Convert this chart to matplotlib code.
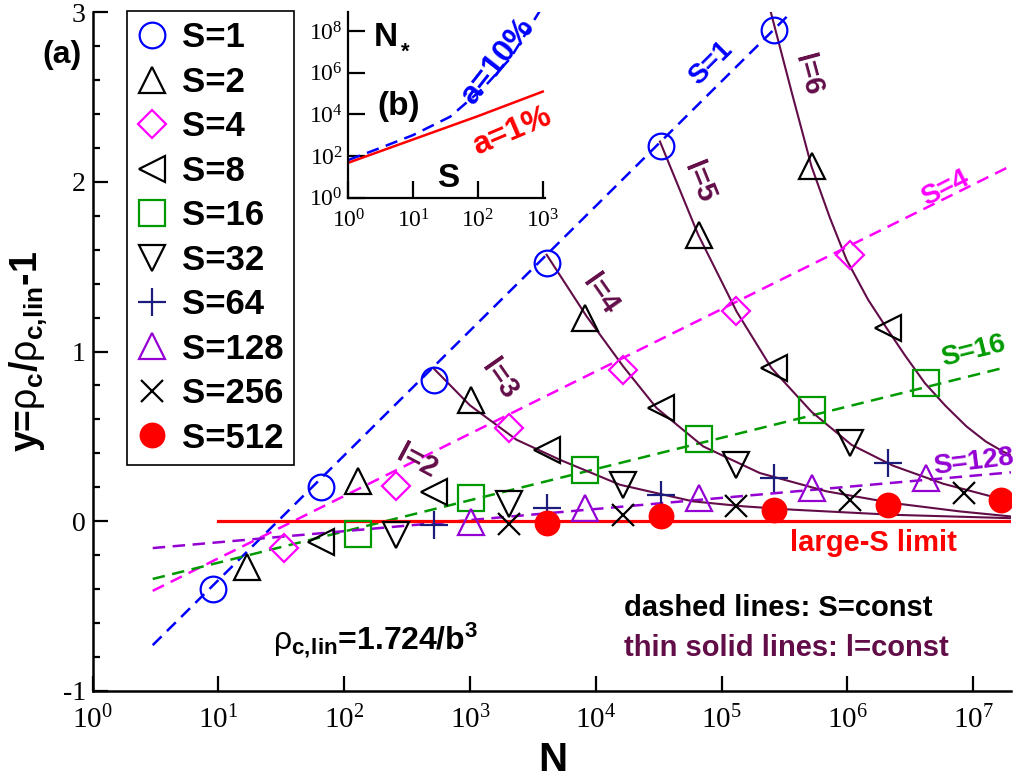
import numpy as np
import matplotlib
matplotlib.use("Agg")
import matplotlib.pyplot as plt
from matplotlib.ticker import MultipleLocator, NullLocator, FixedLocator

plt.rcParams['font.family'] = 'Liberation Sans'
plt.rcParams['axes.unicode_minus'] = False
plt.rcParams['mathtext.fontset'] = 'stix'
plt.rcParams['mathtext.rm'] = 'Liberation Sans'
plt.rcParams['mathtext.it'] = 'Liberation Sans:bold'
plt.rcParams['mathtext.bf'] = 'Liberation Sans:bold'

# ---- simulation points, y = rho_c/rho_c,lin - 1 ----
N_s1 = [9, 65, 513, 4097, 32769, 262145]
y_s1 = [-0.40, 0.20, 0.83, 1.52, 2.21, 2.895]
N_s2 = [17, 129, 1025, 8193, 65537, 524289]
y_s2 = [-0.27, 0.235, 0.715, 1.197, 1.688, 2.09]
N_s4 = [33, 257, 2049, 16385, 131073, 1048577]
y_s4 = [-0.16, 0.205, 0.55, 0.89, 1.236, 1.57]
N_s8 = [65, 513, 4097, 32769, 262145, 2097153]
y_s8 = [-0.12, 0.17, 0.42, 0.667, 0.90, 1.138]
N_s16 = [129, 1025, 8193, 65537, 524289, 4194305]
y_s16 = [-0.074, 0.137, 0.30, 0.484, 0.657, 0.814]
N_s32 = [257, 2049, 16385, 131073, 1048577]
y_s32 = [-0.08, 0.10, 0.215, 0.333, 0.46]
N_s64 = [513, 4097, 32769, 262145, 2097153]
y_s64 = [-0.025, 0.078, 0.156, 0.254, 0.343]
N_s128 = [1025, 8193, 65537, 524289, 4194305]
y_s128 = [-0.005, 0.081, 0.137, 0.196, 0.254]
N_s256 = [2049, 16385, 131073, 1048577, 8388609]
y_s256 = [-0.015, 0.038, 0.087, 0.127, 0.166]
N_s512 = [4097, 32769, 262145, 2097153, 16777217]
y_s512 = [-0.011, 0.028, 0.068, 0.097, 0.127]

# ---- dashed S=const lines (end points) ----
dash_s1_N, dash_s1_y = [3, 3.6e5], [-0.73, 3.0]
dash_s4_N, dash_s4_y = [3, 1.95e7], [-0.41, 2.09]
dash_s16_N, dash_s16_y = [3, 1.84e7], [-0.34, 0.908]
dash_s128_N, dash_s128_y = [3, 2.0e7], [-0.158, 0.288]
limit_N, limit_y = [10, 2.0e7], [0.0, 0.0]

# ---- thin solid l=const curves (log10 N, y) ----
l3_logN = [2.707, 2.999, 3.370, 3.715, 4.192, 4.774, 5.172, 5.569, 6.364, 7.305]
l3_y = [0.903, 0.683, 0.480, 0.362, 0.215, 0.117, 0.088, 0.068, 0.038, 0.018]
l4_logN = [3.609, 3.927, 4.218, 4.483, 4.854, 5.304, 5.835, 6.364, 6.894, 7.305]
l4_y = [1.570, 1.207, 0.912, 0.667, 0.441, 0.284, 0.176, 0.107, 0.058, 0.028]
l5_logN = [4.510, 4.814, 5.119, 5.397, 5.715, 6.033, 6.364, 6.762, 7.305]
l5_y = [2.237, 1.688, 1.236, 0.902, 0.645, 0.450, 0.327, 0.221, 0.115]
l6_logN = [5.390, 5.560, 5.715, 5.860, 5.994, 6.165, 6.312, 6.460, 6.616, 6.780,
           6.948, 7.100, 7.239, 7.305]
l6_y = [3.003, 2.520, 2.090, 1.790, 1.540, 1.305, 1.138, 0.975, 0.814, 0.680,
        0.558, 0.470, 0.410, 0.386]

# ---- inset (b): N* vs S ----
inset_a1_logS = [0, 1, 2, 3]
inset_a1_logN = [1.68, 2.80, 3.92, 5.10]
inset_a10_logS = [0, 0.5, 1.0, 1.57, 2.08, 2.5, 2.96]
inset_a10_logN = [1.81, 2.40, 3.01, 3.89, 5.26, 6.70, 9.0]

W, H = 1021, 779
MAROON = '#620c48'
GREEN = '#009a00'
PURPLE = '#9400d3'
NAVY = '#1c1c7c'


def fx(px):
    return px / W


def fy(py):
    return 1 - py / H


fig = plt.figure(figsize=(W / 100, H / 100), dpi=100)
ax = fig.add_axes([fx(92.7), fy(691), (1011 - 92.7) / W, (691 - 12) / H])
ax.set_xscale('log')
ax.set_xlim(1, 2.0e7)
ax.set_ylim(-1, 3)

# lines
dash = (0, (5, 3))
ax.plot(dash_s1_N, dash_s1_y, color='blue', lw=1.8, ls=dash)
ax.plot(dash_s4_N, dash_s4_y, color='magenta', lw=1.8, ls=dash)
ax.plot(dash_s16_N, dash_s16_y, color=GREEN, lw=1.8, ls=dash)
ax.plot(dash_s128_N, dash_s128_y, color=PURPLE, lw=1.8, ls=dash)
ax.plot(limit_N, limit_y, color='red', lw=2.3)
for lx, ly in [(l3_logN, l3_y), (l4_logN, l4_y), (l5_logN, l5_y), (l6_logN, l6_y)]:
    ax.plot(10 ** np.array(lx), ly, color=MAROON, lw=1.5, zorder=3)

# markers
series = [
    (N_s1, y_s1, 'o', 'blue', 'none', 18.5, 'S=1'),
    (N_s2, y_s2, '^', 'black', 'none', 19, 'S=2'),
    (N_s4, y_s4, 'D', 'magenta', 'none', 14, 'S=4'),
    (N_s8, y_s8, '<', 'black', 'none', 19, 'S=8'),
    (N_s16, y_s16, 's', GREEN, 'none', 18.5, 'S=16'),
    (N_s32, y_s32, 'v', 'black', 'none', 19, 'S=32'),
    (N_s64, y_s64, '+', NAVY, 'none', 20, 'S=64'),
    (N_s128, y_s128, '^', PURPLE, 'none', 19, 'S=128'),
    (N_s256, y_s256, 'x', 'black', 'none', 16, 'S=256'),
    (N_s512, y_s512, 'o', 'red', 'red', 17, 'S=512'),
]
handles = []
for n, y, m, c, fc, ms, lab in series:
    h, = ax.plot(n, y, ls='none', marker=m, ms=ms, mec=c, mfc=fc, mew=1.6,
                 label=lab, zorder=4)
    handles.append(h)

leg = ax.legend(handles=handles, loc='upper left',
                bbox_to_anchor=(fx(127), fy(11)), bbox_transform=fig.transFigure,
                borderaxespad=0, prop={'weight': 'bold', 'size': 25},
                handlelength=0.84, handletextpad=0.44, borderpad=0.3,
                labelspacing=0.33, fancybox=False, framealpha=1,
                edgecolor='black', numpoints=1)
leg.get_frame().set_linewidth(1.2)

# axes styling
for s in ['top', 'right']:
    ax.spines[s].set_visible(False)
for s in ['left', 'bottom']:
    ax.spines[s].set_linewidth(1.8)
ax.xaxis.set_major_locator(FixedLocator([10.0 ** k for k in range(8)]))
ax.xaxis.set_minor_locator(NullLocator())
ax.yaxis.set_major_locator(MultipleLocator(1))
ax.yaxis.set_minor_locator(MultipleLocator(0.2))
ax.tick_params(which='major', direction='in', length=11, width=1.6,
               labelsize=20, labelfontfamily='Liberation Serif')
ax.tick_params(which='minor', direction='in', length=5, width=1.6)
ax.tick_params(axis='x', pad=11, labelsize=21)
ax.tick_params(axis='y', pad=5)

ax.set_ylabel('y=$\\mathrm{\\rho}_{\\mathbf{c}}$/$\\mathrm{\\rho}_{\\mathbf{c,\\!lin}}$-1',
              fontsize=27, fontweight='bold', math_fontfamily='custom')
ax.yaxis.set_label_coords((50 - 92.7) / (1011 - 92.7), 0.5)
fig.text(fx(553), fy(779), 'N', fontsize=29, fontweight='bold', ha='center', va='bottom')
fig.text(fx(62), fy(55), '(a)', fontsize=23, fontweight='bold', ha='center', va='center')

# line labels
tkw = dict(fontweight='bold', ha='center', va='center', rotation_mode='anchor')
ax.text(8.3e4, 2.70, 'S=1', color='blue', rotation=45, fontsize=20, **tkw)
ax.text(6.0e6, 1.963, 'S=4', color='magenta', rotation=27, fontsize=20, **tkw)
ax.text(1.0e7, 1.0, 'S=16', color=GREEN, rotation=14, fontsize=20, **tkw)
ax.text(1.0e7, 0.35, 'S=128', color=PURPLE, rotation=7, fontsize=20, **tkw)
ax.text(377, 0.352, 'l=2', color=MAROON, rotation=-28, fontsize=21, **tkw)
ax.text(1700, 0.834, 'l=3', color=MAROON, rotation=-55, fontsize=21, **tkw)
ax.text(1.08e4, 1.334, 'l=4', color=MAROON, rotation=-55, fontsize=21, **tkw)
ax.text(6.6e4, 2.0, 'l=5', color=MAROON, rotation=-68, fontsize=21, **tkw)
ax.text(4.88e5, 2.63, 'l=6', color=MAROON, rotation=-75, fontsize=21, **tkw)
ax.text(1.6e6, -0.127, 'large-S limit', color='red', fontsize=21, **tkw)

fig.text(fx(624), fy(608), 'dashed lines: S=const', fontsize=21, fontweight='bold',
         ha='left', va='center')
fig.text(fx(624), fy(648), 'thin solid lines: l=const', fontsize=21, fontweight='bold',
         ha='left', va='center', color=MAROON)
fig.text(fx(273), fy(640), '$\\mathrm{\\rho}_{\\mathbf{c,\\!lin}}$=1.724/b$^{\\mathbf{3}}$',
         fontsize=23, fontweight='bold', ha='left', va='center', math_fontfamily='custom')

# ---- inset (b) ----
axi = fig.add_axes([fx(348.3), fy(197.7), (545 - 348.3) / W, (197.7 - 11.7) / H])
axi.patch.set_alpha(0)
axi.set_xscale('log')
axi.set_yscale('log')
axi.set_xlim(1, 10 ** 3.035)
axi.set_ylim(1, 10 ** 8.94)
axi.plot(10 ** np.array(inset_a10_logS), 10 ** np.array(inset_a10_logN),
         color='blue', lw=1.8, ls=(0, (5, 3)))
axi.plot(10 ** np.array(inset_a1_logS), 10 ** np.array(inset_a1_logN),
         color='red', lw=1.8)
for s in ['top', 'right']:
    axi.spines[s].set_visible(False)
for s in ['left', 'bottom']:
    axi.spines[s].set_linewidth(1.6)
axi.xaxis.set_major_locator(FixedLocator([1, 10, 100, 1000]))
axi.yaxis.set_major_locator(FixedLocator([1, 1e2, 1e4, 1e6, 1e8]))
axi.xaxis.set_minor_locator(NullLocator())
axi.yaxis.set_minor_locator(NullLocator())
axi.tick_params(which='major', direction='in', length=12, width=1.6,
                labelsize=17, labelfontfamily='Liberation Serif')
axi.tick_params(axis='x', pad=8)
axi.tick_params(axis='y', pad=4)

fig.text(fx(385.5), fy(37), 'N', fontsize=24, fontweight='bold', ha='center', va='center')
fig.text(fx(405), fy(52), '*', fontsize=16, fontweight='bold', ha='center', va='center')
fig.text(fx(398.3), fy(107), '(b)', fontsize=24, fontweight='bold', ha='center', va='center')
fig.text(fx(448.3), fy(178.3), 'S', fontsize=24, fontweight='bold', ha='center', va='center')
fig.text(fx(497.5), fy(61.7), 'a=10%', fontsize=23, fontweight='bold', color='blue',
         ha='center', va='center', rotation=52, rotation_mode='anchor')
fig.text(fx(511.7), fy(131.5), 'a=1%', fontsize=23, fontweight='bold', color='red',
         ha='center', va='center', rotation=23, rotation_mode='anchor')

fig.savefig('out.png', dpi=100)
